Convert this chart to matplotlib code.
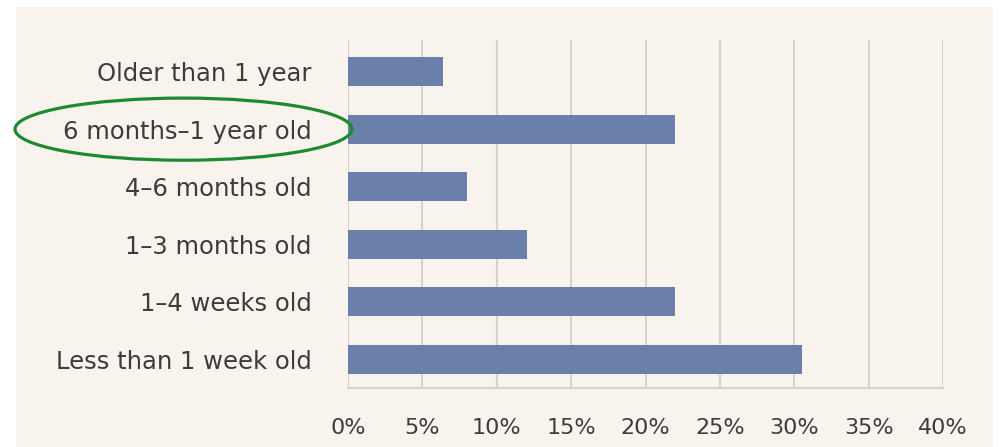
import matplotlib
matplotlib.use("Agg")
import matplotlib.pyplot as plt
from matplotlib.patches import Ellipse, Rectangle
from matplotlib.transforms import blended_transform_factory
from matplotlib.ticker import FuncFormatter

# age of the content, bottom to top
categories = [
    "Less than 1 week old",
    "1\u20134 weeks old",
    "1\u20133 months old",
    "4\u20136 months old",
    "6 months\u20131 year old",
    "Older than 1 year",
]
shares = [30.5, 22.0, 12.0, 8.0, 22.0, 6.4]
x_ticks = [0, 5, 10, 15, 20, 25, 30, 35, 40]
highlight = "6 months\u20131 year old"

bg = "#f8f4ed"
bar_color = "#6a80ab"
grid_color = "#d6d2cc"
text_color = "#3c3c3c"

fig = plt.figure(figsize=(10, 4.47), dpi=100)
fig.patch.set_facecolor("white")
fig.patches.append(Rectangle((0.016, 0.0), 0.977, 1 - 7 / 447, transform=fig.transFigure,
                             facecolor=bg, edgecolor="none", zorder=-10))

ax = fig.add_axes([0.348, 0.132, 0.595, 0.7785])
ax.patch.set_alpha(0)

ypos = list(range(len(categories)))
ax.barh(ypos, shares, height=0.5, color=bar_color, zorder=3)

ax.set_xlim(0, 40)
ax.set_ylim(-0.5, 5.55)
ax.set_xticks(x_ticks)
ax.xaxis.set_major_formatter(FuncFormatter(lambda v, p: f"{int(v)}%"))
ax.set_yticks(ypos)
ax.set_yticklabels(categories)

ax.grid(axis="x", color=grid_color, linewidth=1.5, zorder=0)
ax.grid(axis="y", visible=False)
for side in ["top", "right", "left"]:
    ax.spines[side].set_visible(False)
ax.spines["bottom"].set_color(grid_color)
ax.spines["bottom"].set_linewidth(1.5)

ax.tick_params(axis="y", length=0, pad=26, labelsize=17.5, labelcolor=text_color)
ax.tick_params(axis="x", length=0, pad=21.5, labelsize=16, labelcolor=text_color)

# green ring around the highlighted label
trans = blended_transform_factory(fig.transFigure, ax.transData)
ring = Ellipse((0.1835, categories.index(highlight)), 0.337, 1.08, transform=trans,
               fill=False, edgecolor="#1c8a2e", linewidth=2.3, clip_on=False, zorder=5)
fig.patches.append(ring)

fig.savefig("out.png", dpi=100, facecolor=fig.get_facecolor())
